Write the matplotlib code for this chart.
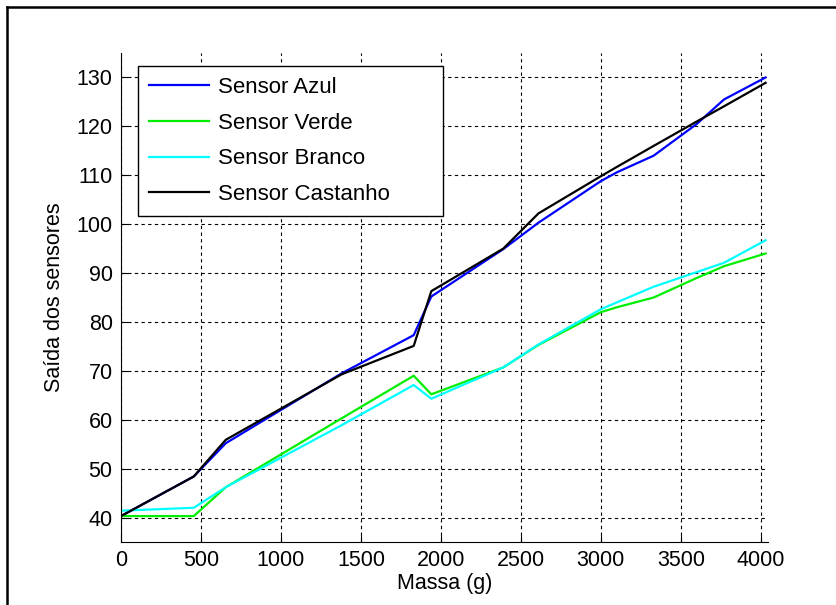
import matplotlib
matplotlib.use('Agg')
import matplotlib.pyplot as plt
from matplotlib.lines import Line2D

# mass points (g)
mass = [0, 455, 655, 1380, 1830, 1940, 2390, 2610, 3000, 3100, 3330, 3600, 3770, 4030]

sensor_azul = [40.3, 48.4, 55.2, 69.5, 77.3, 85.2, 94.9, 100.3, 108.8, 110.6, 114.0, 120.5, 125.5, 130.0]
sensor_verde = [40.3, 40.3, 46.2, 60.3, 69.0, 65.2, 70.7, 75.3, 82.0, 83.0, 85.0, 89.0, 91.4, 94.0]
sensor_branco = [41.4, 42.0, 46.2, 58.9, 67.1, 64.3, 70.7, 75.4, 82.6, 84.0, 87.2, 90.2, 92.1, 96.7]
sensor_castanho = [40.3, 48.4, 55.9, 69.3, 75.1, 86.3, 95.0, 102.2, 109.8, 111.7, 116.0, 121.0, 124.1, 128.9]

labels = ['Sensor Azul', 'Sensor Verde', 'Sensor Branco', 'Sensor Castanho']
colors = ['#0000ff', '#00ee00', '#00ffff', '#000000']
xticks = [0, 500, 1000, 1500, 2000, 2500, 3000, 3500, 4000]
yticks = [40, 50, 60, 70, 80, 90, 100, 110, 120, 130]

plt.rcParams['font.family'] = ['Liberation Sans', 'DejaVu Sans']

W, H = 837, 605
fig = plt.figure(figsize=(W / 100.0, H / 100.0), dpi=100)
ax = fig.add_axes([121.0 / W, 1 - 542.0 / H, 647.0 / W, 489.0 / H])

for y, lab, c in zip([sensor_azul, sensor_verde, sensor_branco, sensor_castanho], labels, colors):
    ax.plot(mass, y, color=c, linewidth=1.6, label=lab)

ax.set_xlim(0, 4045)
ax.set_ylim(35, 135)
ax.set_xticks(xticks)
ax.set_yticks(yticks)
ax.tick_params(axis='both', direction='in', length=5, labelsize=15.5, pad=6,
               top=False, right=False)
ax.spines['top'].set_visible(False)
ax.spines['right'].set_visible(False)
ax.grid(True, color='black', linestyle=(0, (3, 3)), linewidth=0.8)
ax.set_axisbelow(True)

ax.set_xlabel('Massa (g)', fontsize=15.5, labelpad=1)
ax.set_ylabel('Saída dos sensores', fontsize=15.5, labelpad=8)

# legend box is wider than its text, as in the original
leg = ax.legend(loc='upper left', bbox_to_anchor=(17.0 / 647, 476.0 / 489, 305.0 / 647, 0),
                mode='expand', borderaxespad=0, fancybox=False, framealpha=1, fontsize=16,
                handlelength=2.7, labelspacing=0.66, borderpad=0.5, handletextpad=0.4)
leg.get_frame().set_edgecolor('black')
leg.get_frame().set_linewidth(1.0)

# outer frame (left and top edges)
fig.add_artist(Line2D([7.0 / W, 7.0 / W], [0, 1 - 7.0 / H], transform=fig.transFigure,
                      color='black', linewidth=1.8))
fig.add_artist(Line2D([7.0 / W, 1], [1 - 7.0 / H, 1 - 7.0 / H], transform=fig.transFigure,
                      color='black', linewidth=1.8))

fig.savefig('out.png', dpi=100)
